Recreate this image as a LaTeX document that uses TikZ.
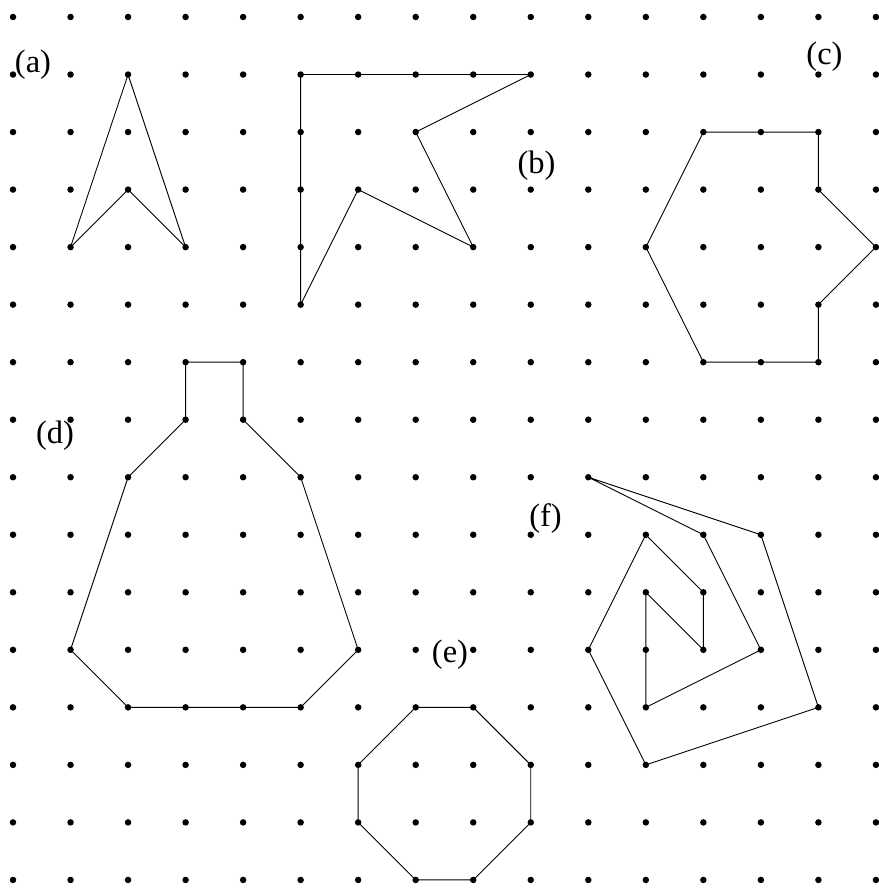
\documentclass[tikz,border=0pt]{standalone}
\usepackage{fontspec}
\setmainfont{Liberation Serif}
\begin{document}
\begin{tikzpicture}[x=57.53pt,y=-57.53pt,
  griddot/.style={circle,fill=black,inner sep=0pt,minimum size=6.5pt},
  shapeline/.style={line width=0.9pt,line join=miter},
  lbl/.style={anchor=base,inner sep=0pt,font=\fontsize{32.5}{32.5}\selectfont}]
\useasboundingbox[fill=white] (-0.226,-0.2955) rectangle (15.036,15.175);
\foreach \i in {0,...,15}{
  \foreach \j in {0,...,15}{
    \node[griddot] (p-\i-\j) at (\i,\j) {};
  }
}
% (a)
\draw[shapeline] (p-2-1.center) -- (p-3-4.center) -- (p-2-3.center) -- (p-1-4.center) -- cycle;
% (b)
\draw[shapeline] (p-5-1.center) -- (p-9-1.center) -- (p-7-2.center) -- (p-8-4.center) -- (p-6-3.center) -- (p-5-5.center) -- cycle;
% (c)
\draw[shapeline] (p-12-2.center) -- (p-14-2.center) -- (p-14-3.center) -- (p-15-4.center) -- (p-14-5.center) -- (p-14-6.center) -- (p-12-6.center) -- (p-11-4.center) -- cycle;
% (d)
\draw[shapeline] (p-3-6.center) -- (p-4-6.center) -- (p-4-7.center) -- (p-5-8.center) -- (p-6-11.center) -- (p-5-12.center) -- (p-2-12.center) -- (p-1-11.center) -- (p-2-8.center) -- (p-3-7.center) -- cycle;
% (e)
\draw[shapeline] (p-7-12.center) -- (p-8-12.center) -- (p-9-13.center) -- (p-9-14.center) -- (p-8-15.center) -- (p-7-15.center) -- (p-6-14.center) -- (p-6-13.center) -- cycle;
% (f)
\draw[shapeline] (p-10-8.center) -- (p-13-9.center) -- (p-14-12.center) -- (p-11-13.center) -- (p-10-11.center) -- (p-11-9.center) -- (p-12-10.center) -- (p-12-11.center) -- (p-11-10.center) -- (p-11-12.center) -- (p-13-11.center) -- (p-12-9.center) -- cycle;
% labels
\node[lbl] (la) at (0.348,0.973) {(a)};
\node[lbl] (lb) at (9.10,2.712) {(b)};
\node[lbl] (lc) at (14.106,0.834) {(c)};
\node[lbl] (ld) at (0.730,7.405) {(d)};
\node[lbl] (le) at (7.596,11.229) {(e)};
\node[lbl] (lf) at (9.256,8.865) {(f)};
\end{tikzpicture}
\end{document}
